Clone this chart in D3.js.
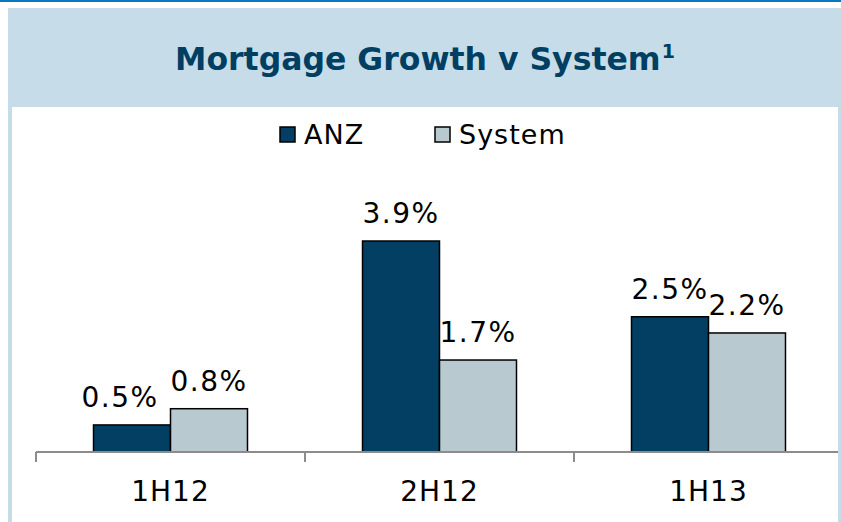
<!DOCTYPE html>
<html>
<head>
<meta charset="utf-8">
<script src="https://cdn.jsdelivr.net/npm/d3@7"></script>
<style>
  html, body { margin: 0; padding: 0; background: #fff; }
  svg { display: block; font-family: "DejaVu Sans", Verdana, sans-serif; }
</style>
</head>
<body>
<svg id="chart" width="841" height="522"></svg>
<script>
// data
const categories = ["1H12", "2H12", "1H13"];
const seriesNames = ["ANZ", "System"];
const anzValues = [0.5, 3.9, 2.5];
const systemValues = [0.8, 1.7, 2.2];
const chartTitle = "Mortgage Growth v System";

const colors = { ANZ: "#023f62", System: "#b9c9d0" };
// excel pushed this one label a bit to the left
const labelNudge = { "1H12|ANZ": -12 };

const svg = d3.select("#chart"),
    width = +svg.attr("width"),
    height = +svg.attr("height");

// frame
svg.append("rect").attr("x", 0).attr("y", 0).attr("width", width).attr("height", 2).attr("fill", "#0a78bf");
svg.append("rect").attr("x", 8).attr("y", 8).attr("width", width - 8).attr("height", height - 8).attr("fill", "#c6dde9");
svg.append("rect").attr("x", 12).attr("y", 107).attr("width", 826).attr("height", height - 107).attr("fill", "#fff");

// title
const title = svg.append("text")
    .attr("x", 425)
    .attr("y", 70)
    .attr("text-anchor", "middle")
    .attr("font-weight", "bold")
    .attr("font-size", 31.5)
    .attr("fill", "#003f62");
title.append("tspan").text(chartTitle);
title.append("tspan").attr("font-size", 19).attr("dy", -12).attr("dx", 1).text("1");

const rows = categories.map((c, i) => ({ cat: c, ANZ: anzValues[i], System: systemValues[i] }));

const baseY = 452;
const x = d3.scaleBand().domain(categories).range([36, 843]).paddingInner(0).paddingOuter(0);
const x1 = d3.scaleBand().domain(seriesNames).range([0, x.bandwidth()]).paddingInner(0).paddingOuter(0.747);
const y = d3.scaleLinear().domain([0, 4.5]).range([baseY, baseY - 4.5 * 54.1]);

// bars
const groups = svg.append("g").selectAll("g")
  .data(rows)
  .enter().append("g")
    .attr("transform", d => "translate(" + x(d.cat) + ",0)");

groups.selectAll("rect")
  .data(d => seriesNames.map(s => ({ cat: d.cat, key: s, value: d[s] })))
  .enter().append("rect")
    .attr("x", d => x1(d.key))
    .attr("y", d => y(d.value))
    .attr("width", x1.bandwidth())
    .attr("height", d => baseY - y(d.value))
    .attr("fill", d => colors[d.key])
    .attr("stroke", "#000")
    .attr("stroke-width", 1.5);

groups.selectAll("text")
  .data(d => seriesNames.map(s => ({ cat: d.cat, key: s, value: d[s] })))
  .enter().append("text")
    .attr("x", d => x1(d.key) + x1.bandwidth() / 2 + (labelNudge[d.cat + "|" + d.key] || 0))
    .attr("y", d => y(d.value) - 18)
    .attr("text-anchor", "middle")
    .attr("font-size", 28)
    .attr("letter-spacing", 1.5)
    .attr("fill", "#000")
    .text(d => d.value.toFixed(1) + "%");

// axis
const axis = svg.append("g");
axis.append("line")
    .attr("x1", 36).attr("x2", 838)
    .attr("y1", baseY).attr("y2", baseY)
    .attr("stroke", "#8c8c8c").attr("stroke-width", 2);
axis.selectAll(".tick")
  .data(categories)
  .enter().append("line")
    .attr("x1", d => x(d)).attr("x2", d => x(d))
    .attr("y1", baseY).attr("y2", baseY + 10)
    .attr("stroke", "#8c8c8c").attr("stroke-width", 2);
axis.selectAll(".cat")
  .data(categories)
  .enter().append("text")
    .attr("x", d => x(d) + x.bandwidth() / 2)
    .attr("y", 501)
    .attr("text-anchor", "middle")
    .attr("font-size", 28)
    .attr("letter-spacing", 1)
    .attr("fill", "#000")
    .text(d => d);

// legend
const legendPos = [280, 435];
const legend = svg.append("g").selectAll("g")
  .data(seriesNames)
  .enter().append("g")
    .attr("transform", (d, i) => "translate(" + legendPos[i] + ",127)");
legend.append("rect")
    .attr("width", 15).attr("height", 15)
    .attr("fill", d => colors[d])
    .attr("stroke", "#000").attr("stroke-width", 1.5);
legend.append("text")
    .attr("x", 24).attr("y", 17)
    .attr("font-size", 27)
    .attr("letter-spacing", 1)
    .attr("fill", "#000")
    .text(d => d);
</script>
</body>
</html>
